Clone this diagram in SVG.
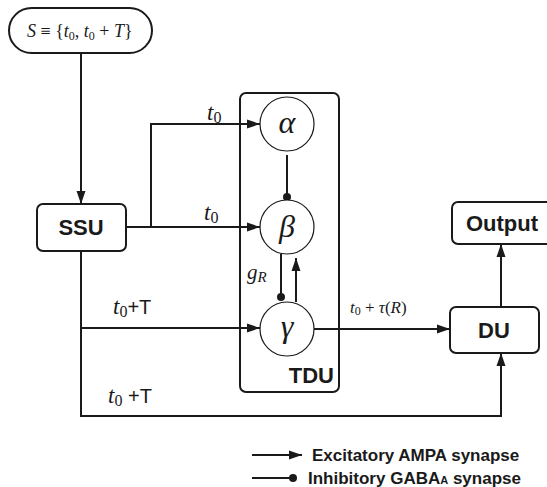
<svg xmlns="http://www.w3.org/2000/svg" width="547" height="487" viewBox="0 0 547 487">
<style>
.box{fill:#fff;stroke:#1a1a1a;stroke-width:2}
.circ{fill:#fff;stroke:#1a1a1a;stroke-width:1.2}
.ln{fill:none;stroke:#1a1a1a;stroke-width:2}
.lbl{font-family:"Liberation Sans",Arial,sans-serif;font-weight:bold;font-size:22px;fill:#1a1a1a}
.m{font-family:"Liberation Serif","Times New Roman",serif;font-style:italic;fill:#1a1a1a}
.r{font-style:normal}
.leg{font-family:"Liberation Sans",Arial,sans-serif;font-weight:bold;font-size:17px;fill:#1a1a1a}
</style>
<defs>
<marker id="arr" markerUnits="userSpaceOnUse" markerWidth="14" markerHeight="10" refX="13" refY="5" orient="auto">
<path d="M0,0.5 L13,5 L0,9.5 Z" fill="#1a1a1a"/>
</marker>
<marker id="dot" markerUnits="userSpaceOnUse" markerWidth="10" markerHeight="10" refX="5" refY="5" orient="auto">
<circle cx="5" cy="5" r="4" fill="#1a1a1a"/>
</marker>
</defs>

<g id="TDU">
<rect class="box" x="240" y="93" width="99" height="299" rx="6"/>
<text class="lbl" x="334" y="383" text-anchor="end">TDU</text>
</g>

<g id="connectors">
<line class="ln" x1="81" y1="52" x2="81" y2="204" marker-end="url(#arr)"/>
<line class="ln" x1="126" y1="227" x2="260" y2="227" marker-end="url(#arr)"/>
<polyline class="ln" points="151,227 151,124 260,124" marker-end="url(#arr)"/>
<line class="ln" x1="287" y1="155" x2="287" y2="197" marker-end="url(#dot)"/>
<line class="ln" x1="281" y1="254" x2="281" y2="297" marker-end="url(#dot)"/>
<line class="ln" x1="296" y1="302" x2="296" y2="258" marker-end="url(#arr)"/>
<polyline class="ln" points="81,251 81,416 501,416 501,353" marker-end="url(#arr)"/>
<line class="ln" x1="81" y1="328" x2="260" y2="328" marker-end="url(#arr)"/>
<line class="ln" x1="314" y1="329" x2="450" y2="329" marker-end="url(#arr)"/>
<line class="ln" x1="501" y1="307" x2="501" y2="244" marker-end="url(#arr)"/>
</g>

<g id="S">
<rect class="box" x="9" y="8" width="143" height="45" rx="22.5"/>
<text class="m" x="27" y="37" font-size="18">S <tspan class="r">≡ {</tspan>t<tspan class="r" font-size="12" dy="3">0</tspan><tspan class="r" dy="-3">, </tspan>t<tspan class="r" font-size="12" dy="3">0</tspan><tspan class="r" dy="-3"> + </tspan>T<tspan class="r">}</tspan></text>
</g>

<g id="SSU">
<rect class="box" x="37" y="204" width="89" height="47" rx="6"/>
<text class="lbl" x="81" y="235" text-anchor="middle">SSU</text>
</g>

<g id="alpha">
<circle class="circ" cx="287" cy="124" r="27"/>
<text class="m" x="287" y="133" font-size="32" text-anchor="middle">α</text>
</g>
<g id="beta">
<circle class="circ" cx="287" cy="227" r="27"/>
<text class="m" x="287" y="237" font-size="32" text-anchor="middle">β</text>
</g>
<g id="gamma">
<circle class="circ" cx="287" cy="329" r="27"/>
<text class="m" x="287" y="337" font-size="32" text-anchor="middle">γ</text>
</g>

<g id="DU">
<rect class="box" x="450" y="307" width="89" height="46" rx="6"/>
<text class="lbl" x="494" y="338" text-anchor="middle">DU</text>
</g>

<g id="Output">
<rect class="box" x="452" y="202" width="100" height="42" rx="6"/>
<text class="lbl" x="502" y="231" text-anchor="middle">Output</text>
</g>

<g id="labels">
<text class="m" x="207" y="120" font-size="23">t<tspan class="r" font-size="16" dy="3">0</tspan></text>
<text class="m" x="204" y="220" font-size="23">t<tspan class="r" font-size="16" dy="3">0</tspan></text>
<text class="m" x="247" y="279" font-size="21">g<tspan font-size="15" dy="3">R</tspan></text>
<text class="m" x="113" y="314" font-size="23">t<tspan class="r" font-size="16" dy="3">0</tspan><tspan style="font-family:'Liberation Sans',Arial,sans-serif;font-style:normal" font-size="20" dy="-3">+T</tspan></text>
<text class="m" x="108" y="403" font-size="23">t<tspan class="r" font-size="16" dy="3">0</tspan><tspan style="font-family:'Liberation Sans',Arial,sans-serif;font-style:normal" font-size="20" dy="-3"> +T</tspan></text>
<text class="m" x="350" y="313" font-size="17">t<tspan class="r" font-size="12" dy="2">0</tspan><tspan class="r" dy="-2"> + </tspan>τ<tspan class="r">(</tspan>R<tspan class="r">)</tspan></text>
</g>

<g id="legend">
<line class="ln" x1="252" y1="455" x2="302" y2="455" marker-end="url(#arr)"/>
<text class="leg" x="312" y="461">Excitatory AMPA synapse</text>
<line class="ln" x1="252" y1="478" x2="293" y2="478" marker-end="url(#dot)"/>
<text class="leg" x="308" y="484">Inhibitory GABA<tspan font-size="11">A</tspan> synapse</text>
</g>
</svg>
